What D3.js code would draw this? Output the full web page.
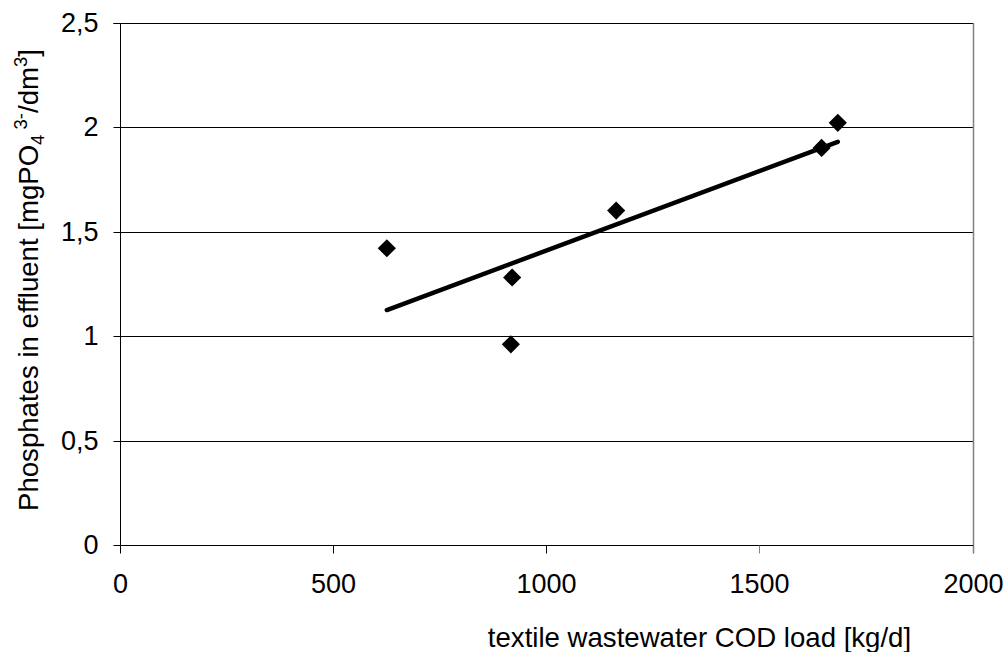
<!DOCTYPE html>
<html>
<head>
<meta charset="utf-8">
<script src="https://cdn.jsdelivr.net/npm/d3@7"></script>
<style>
  html, body { margin: 0; padding: 0; background: #fff; }
  svg { display: block; }
  text { font-family: "Liberation Sans", Arial, sans-serif; fill: #000; }
</style>
</head>
<body>
<svg id="chart" width="1005" height="652"></svg>
<script>
const codLoad = [626, 920, 917, 1164, 1646, 1684];
const phosphates = [1.42, 1.28, 0.96, 1.60, 1.90, 2.02];
const xTicks = [0, 500, 1000, 1500, 2000];
const yTicks = [0, 0.5, 1, 1.5, 2, 2.5];
const xTickLabels = ["0", "500", "1000", "1500", "2000"];
const yTickLabels = ["0", "0,5", "1", "1,5", "2", "2,5"];

(function () {
const svg = d3.select("#chart");
const pL = 120, pT = 22.5, pR = 972.5, pB = 545;
const x = d3.scaleLinear().domain([0, 2000]).range([pL, pR]);
const y = d3.scaleLinear().domain([0, 2.5]).range([pB, pT]);
const px = v => Math.round(v) + 0.5;
const fs = 27;
const fsT = 27.6;
const ff = "Liberation Sans, Arial, sans-serif";

// gridlines
svg.append("g").selectAll("line").data(yTicks.filter(v => v > 0)).join("line")
  .attr("x1", px(pL)).attr("x2", px(pR))
  .attr("y1", d => px(y(d))).attr("y2", d => px(y(d)))
  .attr("stroke", "#000").attr("stroke-width", 1);

// right border
svg.append("line").attr("x1", px(pR)).attr("x2", px(pR))
  .attr("y1", px(pT)).attr("y2", px(pB) + 8)
  .attr("stroke", "#808080").attr("stroke-width", 1.5);

// y axis
const yAxis = d3.axisLeft(y).tickValues(yTicks).tickSize(7).tickPadding(15)
  .tickFormat((d, i) => yTickLabels[i]);
const gy = svg.append("g").attr("transform", `translate(${px(pL)},0)`).call(yAxis);
gy.select(".domain").attr("stroke", "#000").attr("d", `M-7,${px(pT)}H0V${px(pB)}`);
gy.selectAll(".tick").attr("transform", d => `translate(0,${px(y(d))})`);
gy.selectAll(".tick line").attr("stroke", "#000");
gy.selectAll(".tick text").attr("font-size", fs).attr("font-family", ff).attr("fill", "#000");

// x axis
const xAxis = d3.axisBottom(x).tickValues(xTicks).tickSize(8).tickPadding(20)
  .tickFormat((d, i) => xTickLabels[i]);
const gx = svg.append("g").attr("transform", `translate(0,${px(pB)})`).call(xAxis);
gx.select(".domain").attr("stroke", "#000").attr("d", `M${px(pL)},0H${px(pR)}`);
gx.selectAll(".tick").attr("transform", d => `translate(${px(x(d))},0)`);
gx.selectAll(".tick line").attr("stroke", d => d >= 1500 ? "#808080" : "#000");
gx.selectAll(".tick text").attr("font-size", fs).attr("font-family", ff).attr("fill", "#000");

// trend line (least squares)
const pts = codLoad.map((c, i) => [c, phosphates[i]]);
const mx = d3.mean(codLoad), my = d3.mean(phosphates);
const slope = d3.sum(pts, p => (p[0] - mx) * (p[1] - my)) / d3.sum(pts, p => (p[0] - mx) ** 2);
const icpt = my - slope * mx;
const xExt = d3.extent(codLoad);
const trend = xExt.map(v => [v, icpt + slope * v]);
svg.append("path").datum(trend)
  .attr("d", d3.line().x(d => x(d[0])).y(d => y(d[1])))
  .attr("fill", "none").attr("stroke", "#000").attr("stroke-width", 4.5).attr("stroke-linecap", "round");

// markers
const diamond = d3.symbol().type(d3.symbolSquare).size(165);
svg.append("g").selectAll("path").data(pts).join("path")
  .attr("d", diamond)
  .attr("transform", d => `translate(${x(d[0])},${y(d[1])}) rotate(45)`)
  .attr("fill", "#000");

// x title
svg.append("text").attr("x", 699.5).attr("y", 646.5).attr("text-anchor", "middle")
  .attr("font-size", fsT).text("textile wastewater COD load [kg/d]");

// y title
const yt = svg.append("text")
  .attr("transform", `translate(38,280) rotate(-90)`)
  .attr("text-anchor", "middle").attr("font-size", fsT);
yt.append("tspan").text("Phosphates in effluent [mgPO");
yt.append("tspan").attr("font-size", 18.5).attr("dy", 6).text("4");
yt.append("tspan").attr("font-size", 18.5).attr("dy", -17).text(" 3-");
yt.append("tspan").attr("dy", 11).text("/dm");
yt.append("tspan").attr("font-size", 18.5).attr("dy", -11).text("3");
yt.append("tspan").attr("dy", 11).text("]");
})();
</script>
</body>
</html>
